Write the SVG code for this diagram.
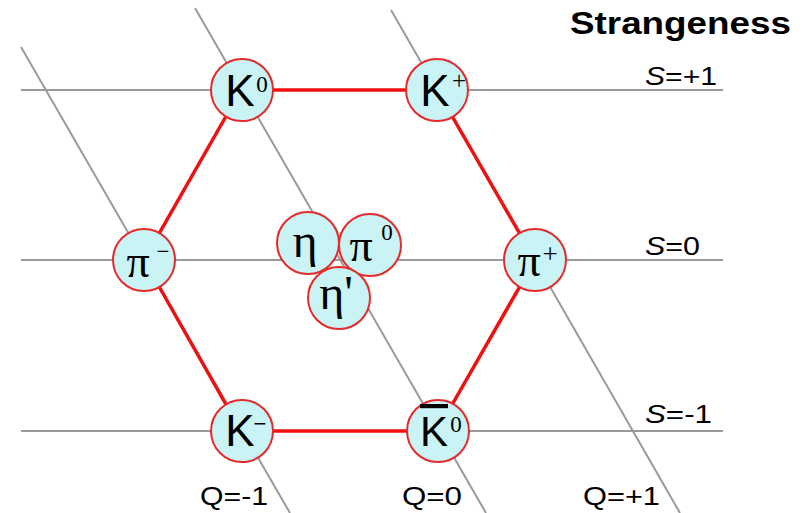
<svg xmlns="http://www.w3.org/2000/svg" width="808" height="513" viewBox="0 0 808 513">
<style>
.grid{stroke:#9a9a9a;stroke-width:2;fill:none}
.edge{stroke:#f01010;stroke-width:3.5;fill:none}
.node circle{fill:#c9f3f4;stroke:#e42a2a;stroke-width:2}
.sans{font-family:"Liberation Sans",Arial,sans-serif;fill:#000}
.serif{font-family:"Liberation Serif","Times New Roman",serif;fill:#000}
.big{font-size:44px}
.gr{font-size:46px}
.sup{font-size:23px}
.lab{font-family:"Liberation Sans",Arial,sans-serif;font-size:26px;fill:#000}
</style>
<rect width="808" height="513" fill="#fff"/>
<g id="grid-lines">
<line class="grid" x1="21" y1="90" x2="723" y2="90"/>
<line class="grid" x1="21" y1="260" x2="723" y2="260"/>
<line class="grid" x1="21" y1="431" x2="723" y2="431"/>
<line class="grid" x1="21" y1="47" x2="290" y2="513"/>
<line class="grid" x1="195" y1="8" x2="486" y2="513"/>
<line class="grid" x1="391" y1="10" x2="680" y2="513"/>
</g>
<g id="connectors">
<line class="edge" x1="241" y1="90" x2="437" y2="90"/>
<line class="edge" x1="437" y1="90" x2="535" y2="260"/>
<line class="edge" x1="535" y1="260" x2="437" y2="431"/>
<line class="edge" x1="437" y1="431" x2="241" y2="431"/>
<line class="edge" x1="241" y1="431" x2="144" y2="260"/>
<line class="edge" x1="144" y1="260" x2="241" y2="90"/>
</g>
<g id="K0" class="node">
<circle cx="242" cy="90" r="31"/>
<text class="sans big" x="240" y="106" text-anchor="middle">K<tspan class="serif sup" x="262" y="92">0</tspan></text>
</g>
<g id="Kplus" class="node">
<circle cx="437" cy="90" r="31"/>
<text class="sans big" x="435" y="106" text-anchor="middle">K<tspan class="serif" style="font-size:25px" x="459" y="89">+</tspan></text>
</g>
<g id="piminus" class="node">
<circle cx="144" cy="260" r="31"/>
<text class="serif gr" x="138" y="277" text-anchor="middle">π<tspan class="sup" x="163" y="259">−</tspan></text>
</g>
<g id="piplus" class="node">
<circle cx="535" cy="260" r="31"/>
<text class="serif gr" x="529" y="276" text-anchor="middle">π<tspan style="font-size:27px" x="550" y="263">+</tspan></text>
</g>
<g id="Kminus" class="node">
<circle cx="242" cy="431" r="31"/>
<text class="sans big" x="240" y="446" text-anchor="middle">K<tspan class="sans" style="font-size:22px" x="260" y="431">−</tspan></text>
</g>
<g id="K0bar" class="node">
<circle cx="438" cy="431" r="31"/>
<text class="sans" style="font-size:42px" x="434" y="446" text-anchor="middle"><tspan text-decoration="overline">K</tspan><tspan class="serif sup" x="456" y="432">0</tspan></text>
</g>
<g id="eta" class="node">
<circle cx="308" cy="243" r="31"/>
<text class="serif" style="font-size:48px" x="305" y="257" text-anchor="middle">η</text>
</g>
<g id="pi0" class="node">
<circle cx="370" cy="245" r="31"/>
<text class="serif gr" x="361" y="261" text-anchor="middle">π<tspan class="sup" x="387" y="240">0</tspan></text>
</g>
<g id="etaprime" class="node">
<circle cx="339" cy="298" r="31"/>
<text class="serif" style="font-size:48px" x="336" y="309" text-anchor="middle">η'</text>
</g>
<g id="labels">
<text class="sans" style="font-size:32px;font-weight:bold" x="570" y="34" textLength="221" lengthAdjust="spacingAndGlyphs">Strangeness</text>
<text class="lab" x="645" y="85" textLength="72" lengthAdjust="spacingAndGlyphs"><tspan font-style="italic">S</tspan>=+1</text>
<text class="lab" x="645" y="255" textLength="55" lengthAdjust="spacingAndGlyphs"><tspan font-style="italic">S</tspan>=0</text>
<text class="lab" x="645" y="423" textLength="67" lengthAdjust="spacingAndGlyphs"><tspan font-style="italic">S</tspan>=-1</text>
<text class="lab" x="200" y="505" textLength="68" lengthAdjust="spacingAndGlyphs">Q=-1</text>
<text class="lab" x="402" y="505" textLength="60" lengthAdjust="spacingAndGlyphs">Q=0</text>
<text class="lab" x="583" y="505" textLength="77" lengthAdjust="spacingAndGlyphs">Q=+1</text>
</g>
</svg>
